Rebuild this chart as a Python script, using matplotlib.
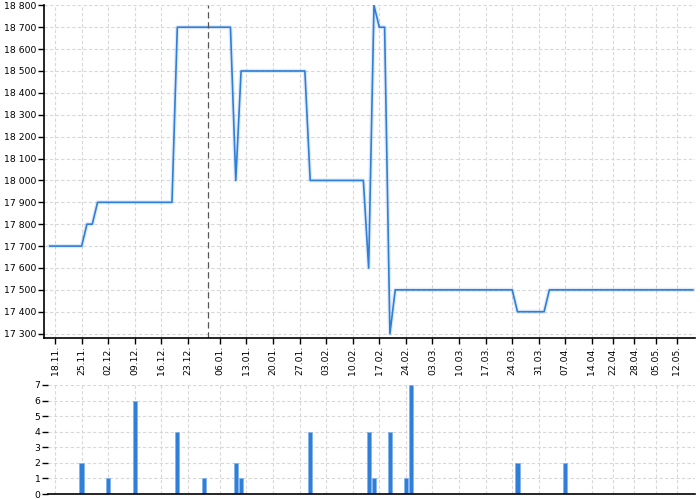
import numpy as np
import pandas as pd
import matplotlib
matplotlib.use('Agg')
import matplotlib.pyplot as plt
from matplotlib.ticker import FuncFormatter

# trading calendar (Prague), holidays removed
holidays = ['2024-12-24', '2024-12-25', '2024-12-26', '2025-01-01',
            '2025-04-18', '2025-04-21', '2025-05-01', '2025-05-08']
days = pd.bdate_range('2024-11-15', '2025-05-15')
days = days[~days.isin(pd.to_datetime(holidays))]
day_idx = {d: i for i, d in enumerate(days)}

# price line, corner points
price_dates = ['2024-11-15', '2024-11-25', '2024-11-26', '2024-11-27', '2024-11-28',
               '2024-12-18', '2024-12-19', '2025-01-08', '2025-01-09', '2025-01-10',
               '2025-01-28', '2025-01-29', '2025-02-12', '2025-02-13', '2025-02-14',
               '2025-02-17', '2025-02-18', '2025-02-19', '2025-02-20', '2025-03-24',
               '2025-03-25', '2025-04-01', '2025-04-02', '2025-05-15']
prices = [17700, 17700, 17800, 17800, 17900,
          17900, 18700, 18700, 18000, 18500,
          18500, 18000, 18000, 17600, 18800,
          18700, 18700, 17300, 17500, 17500,
          17400, 17400, 17500, 17500]

# counts per day
count_dates = ['2024-11-25', '2024-12-02', '2024-12-09', '2024-12-19', '2024-12-31',
               '2025-01-09', '2025-01-10', '2025-01-29', '2025-02-13', '2025-02-14',
               '2025-02-19', '2025-02-24', '2025-02-25', '2025-03-25', '2025-04-07']
counts = [2, 1, 6, 4, 1, 2, 1, 4, 4, 1, 4, 1, 7, 2, 2]

marker_date = '2025-01-02'

px = [day_idx[pd.Timestamp(d)] for d in price_dates]
cx = [day_idx[pd.Timestamp(d)] for d in count_dates]

# ticks: first trading day of every week (skip the partial first week
# and any week start too close to the previous tick)
wk = days.to_period('W')
ticks = []
for i in range(1, len(days)):
    if wk[i] != wk[i - 1] and (not ticks or i - ticks[-1] > 3):
        ticks.append(i)
tick_labels = [days[i].strftime('%d.%m.') for i in ticks]

blue = '#2f7ed8'
grid_kw = dict(color='#d8d8d8', linestyle=(0, (3, 2)), linewidth=0.8)
fs = 6.7

fig = plt.figure(figsize=(7, 5), dpi=100)
ax = fig.add_axes([0.0633, 0.324, 0.9296, 0.666])
ax2 = fig.add_axes([0.0686, 0.012, 0.9243, 0.218])

ax.plot(px, prices, color=blue, lw=3, alpha=0.15)
ax.plot(px, prices, color=blue, lw=1.2)
ax.axvline(day_idx[pd.Timestamp(marker_date)] - 0.2, color='#555555', lw=0.9,
           linestyle=(0, (5, 3)))

ax.set_xlim(-1.02, 121.4)
ax.set_ylim(17280, 18801.5)
ax.set_yticks(np.arange(17300, 18801, 100))
ax.yaxis.set_major_formatter(FuncFormatter(lambda v, p: f"{int(v):,}".replace(',', ' ')))
ax.set_xticks(ticks)
ax.set_xticklabels(tick_labels, rotation=90)
ax.grid(True, **grid_kw)
ax.set_axisbelow(True)
for s in ['top', 'right']:
    ax.spines[s].set_visible(False)
for s in ['left', 'bottom']:
    ax.spines[s].set_linewidth(1.2)
ax.tick_params(labelsize=fs, length=4, width=1, pad=1.5)

ax2.bar(cx, counts, width=0.8, color=blue, edgecolor='#7fb2ea', linewidth=0.5)
ax2.set_xlim(-0.32, 121.4)
ax2.set_ylim(0, 7)
ax2.set_yticks(range(0, 8))
ax2.set_xticks(ticks)
ax2.set_xticklabels([])
ax2.grid(True, **grid_kw)
ax2.set_axisbelow(True)
for s in ['top', 'right', 'left']:
    ax2.spines[s].set_visible(False)
ax2.spines['bottom'].set_linewidth(1.2)
ax2.tick_params(axis='y', labelsize=fs, length=4, width=1, pad=1.5)
ax2.tick_params(axis='x', length=0)

fig.savefig('out.png', dpi=100)
